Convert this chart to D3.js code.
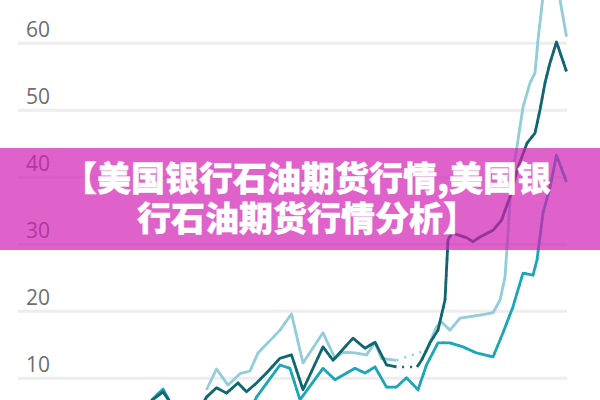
<!DOCTYPE html>
<html>
<head>
<meta charset="utf-8">
<script src="https://cdn.jsdelivr.net/npm/d3@7"></script>
<style>
  html, body { margin: 0; padding: 0; background: #fff; }
  #wrap { position: relative; width: 600px; height: 400px; overflow: hidden; }
  svg { display: block; }
</style>
</head>
<body>
<div id="wrap"><svg id="chart" width="600" height="400"></svg></div>
<script>
// ---- data ----
const yTicks = [10, 20, 30, 40, 50, 60];

const darkT = [-2, 2, 4.6, 6.4, 11, 13.3, 15.3, 17.3, 19.6, 21.3, 23.3, 25.3, 28, 30.3, 32.6, 36.6, 38.6, 42.6, 45, 47, 49.3, 51.3, 53.4, 55.4, 56.3, 58, 59.6, 61, 61.6, 62.4, 65.3, 66.6, 68, 70.6, 72.3, 74, 75.6, 77.4, 79, 80, 81, 82, 83.3, 85.3];
const darkV = [3, 6.4, 7.9, 5.9, 4, 7.1, 8.5, 7.7, 9.2, 7.9, 9.2, 10.7, 12.9, 13.4, 8.2, 14.6, 12.6, 15.9, 14.4, 15.3, 11.9, 11.6, null, 11.6, 12.6, 15.2, 17.1, 21.6, 30.6, 31.6, 30.9, 30.3, 31.0, 32.0, 33.5, 37.0, 41.4, 45.0, 46.5, 50.0, 54.0, 57.0, 60.1, 55.7];

const lightT = [13.3, 15.3, 17.6, 20, 22, 23.6, 28, 30.3, 32.6, 36.6, 39, 40.6, 43, 45.3, 47, 48.3, 51.3, 54, 57.3, 59.3, 60.3, 62, 64, 66, 68.6, 70.6, 72, 73, 74.3, 75.3, 76.6, 78, 79, 79.6, 80.6, 82.4, 84, 85.3];
const lightV = [8.2, 11.3, 8.9, 10.6, 11.0, 13.7, 17.1, 19.5, 12.2, 16.7, 12.9, 13.8, 13.7, 13.4, 15.2, 12.9, 12.6, null, 14.1, 17.6, 18.3, 17.1, 18.9, 19.1, 19.4, 19.7, 21.6, 25.0, 39.5, 44.0, 50.4, 54.0, 55.5, 60.4, 67.0, 70.6, 66.4, 60.9];

const midT = [2.4, 4.6, 6, 9, 20, 22, 23.3, 28, 30, 32, 36.6, 39, 43, 45, 47, 49.3, 51.3, 53.3, 55.6, 57.3, 59.6, 62, 64.6, 67.3, 70.6, 72.6, 74.6, 76.6, 78.6, 79.4, 80.6, 82, 83.3, 85.3];
const midV = [6.7, 8.3, 6.4, 3, 3, 5.2, 7.1, 11.9, 11.4, 6.7, 11.4, 9.7, 11.4, 10.7, 11.6, 8.6, 8.6, 10.0, 8.2, 11.9, 15.2, 15.2, 14.6, 13.7, 13.1, 16.7, 20.6, 25.6, 25.3, 27.6, 34.6, 38.4, 43.2, 39.2];

const titleLines = ["【美国银行石油期货行情,美国银", "行石油期货行情分析】"];

// ---- drawing ----
const svg = d3.select("#chart");
const x = d3.scaleLinear().domain([0, 86]).range([140, 570]);
const y = d3.scaleLinear().domain([0, 60]).range([444.7, 42.7]);

// gridlines + labels
const gridLeft = 18, gridRight = 567;
const axis = d3.axisLeft(y).tickValues(yTicks).tickSize(-(gridRight - gridLeft)).tickFormat(d3.format("d"));
const ag = svg.append("g").attr("transform", `translate(${gridLeft},0)`).call(axis);
ag.select(".domain").remove();
ag.selectAll(".tick line").attr("stroke", "#ededed").attr("stroke-width", 3);
ag.selectAll(".tick text")
  .attr("x", 8).attr("dy", -6).attr("text-anchor", "start")
  .attr("fill", "#6e6e6e")
  .style("font-family", "'Open Sans', 'DejaVu Sans', sans-serif")
  .style("font-size", "21px");

const series = [
  { t: lightT, v: lightV, color: "#93cdd8" },
  { t: midT, v: midV, color: "#1ea6b8" },
  { t: darkT, v: darkV, color: "#10676f" }
];

const lineDef = d3.line()
  .defined(d => d.v !== null)
  .x(d => x(d.t)).y(d => y(d.v));

series.forEach(s => {
  const pts = s.t.map((t, i) => ({ t, v: s.v[i] }));
  // dotted connection across gaps
  svg.append("path")
    .datum(pts.filter(d => d.v !== null))
    .attr("fill", "none")
    .attr("stroke", s.color)
    .attr("stroke-width", 2.5)
    .attr("stroke-dasharray", "2,6")
    .attr("d", lineDef);
  svg.append("path")
    .datum(pts)
    .attr("fill", "none")
    .attr("stroke", s.color)
    .attr("stroke-width", 2.8)
    .attr("stroke-linejoin", "round")
    .attr("d", lineDef);
});

// magenta overlay band
svg.append("rect")
  .attr("x", 0).attr("y", 148).attr("width", 600).attr("height", 102)
  .attr("fill", "rgb(208,31,178)").attr("fill-opacity", 0.7);

// title as one wrapped text block
d3.select("#wrap").append("div")
  .style("position", "absolute")
  .style("left", "0px")
  .style("top", "157px")
  .style("width", "614px")
  .style("text-align", "center")
  .style("white-space", "pre")
  .style("color", "#fff")
  .style("-webkit-text-stroke", "0.4px #fff")
  .style("font-family", "'Noto Sans CJK SC', sans-serif")
  .style("font-weight", "900")
  .style("font-size", "34px")
  .style("line-height", "40px")
  .text(titleLines.join("\n"));
</script>
</body>
</html>
